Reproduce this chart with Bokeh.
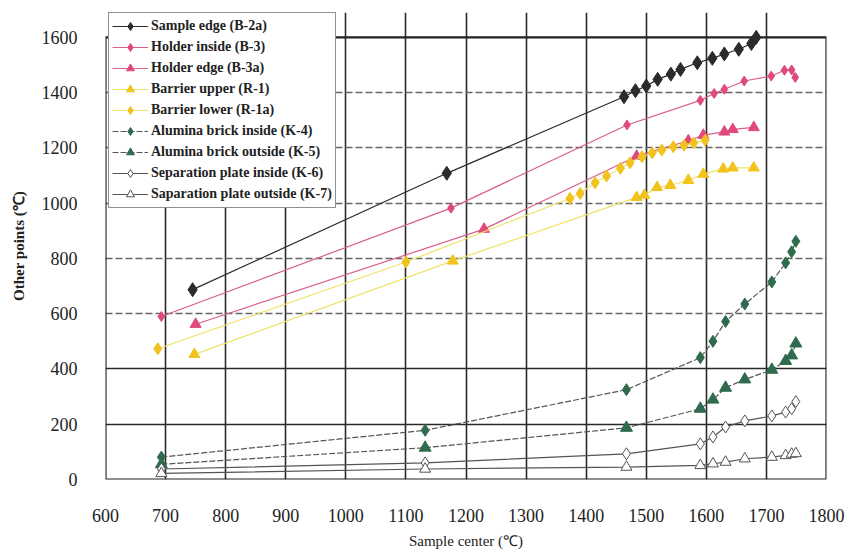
from bokeh.plotting import figure
from bokeh.models import Range1d, FixedTicker, Grid, Legend, LegendItem, BoxAnnotation
from bokeh.embed import file_html
from bokeh.resources import INLINE

# ---- data ----
x_b2a = [745, 1168, 1463, 1482, 1500, 1519, 1541, 1557, 1585, 1610, 1630, 1654, 1675, 1683]
y_b2a = [687, 1108, 1385, 1407, 1424, 1448, 1467, 1484, 1508, 1524, 1540, 1557, 1578, 1600]

x_b3 = [693, 1175, 1468, 1590, 1613, 1630, 1663, 1708, 1730, 1742, 1748]
y_b3 = [590, 982, 1283, 1372, 1397, 1412, 1442, 1460, 1481, 1482, 1455]

x_b3a = [750, 1230, 1484, 1570, 1595, 1630, 1644, 1679]
y_b3a = [562, 906, 1170, 1226, 1246, 1258, 1267, 1274]

x_r1 = [748, 1178, 1484, 1497, 1518, 1540, 1570, 1595, 1628, 1644, 1679]
y_r1 = [453, 791, 1021, 1029, 1057, 1065, 1083, 1105, 1124, 1128, 1128]

x_r1a = [687, 1100, 1373, 1390, 1415, 1434, 1457, 1473, 1493, 1510, 1526, 1545, 1563, 1579, 1598]
y_r1a = [473, 787, 1017, 1035, 1074, 1098, 1126, 1146, 1168, 1182, 1192, 1204, 1210, 1218, 1228]

x_k = [693, 1132, 1467, 1590, 1611, 1632, 1664, 1709, 1732, 1742, 1749]
y_k4 = [81, 178, 325, 441, 500, 572, 635, 715, 784, 824, 862]
y_k5 = [55, 115, 187, 256, 289, 332, 362, 397, 429, 449, 492]
y_k6 = [38, 60, 93, 129, 154, 190, 212, 230, 244, 256, 282]
y_k7 = [22, 38, 45, 51, 57, 63, 75, 81, 87, 92, 94]

labels = ["Sample edge (B-2a)", "Holder inside (B-3)", "Holder edge (B-3a)",
          "Barrier upper (R-1)", "Barrier lower (R-1a)", "Alumina brick inside (K-4)",
          "Alumina brick outside (K-5)", "Separation plate inside (K-6)",
          "Saparation plate outside (K-7)"]

x_ticks = list(range(600, 1801, 100))
y_ticks = list(range(0, 1601, 200))
X_MIN, X_MAX, Y_MIN, Y_MAX = 600, 1800, 0, 1600

SERIF = "Liberation Serif"

# frame extends a little above 1600 so that the legend can sit above the plot box
p = figure(width=847, height=551, output_backend="svg", toolbar_location=None,
           x_range=Range1d(X_MIN, X_MAX), y_range=Range1d(Y_MIN, 1690),
           min_border_left=105, min_border_right=21, min_border_top=12, min_border_bottom=72)

p.background_fill_color = "white"
p.outline_line_color = None

# grids (limited to the 0..1600 box)
p.xgrid.ticker = FixedTicker(ticks=x_ticks)
p.xgrid.grid_line_color = "#2a2a2a"
p.xgrid.grid_line_width = 1.6
p.xgrid.bounds = (Y_MIN, Y_MAX)
p.ygrid.ticker = FixedTicker(ticks=[0, 200, 400])
p.ygrid.grid_line_color = "#2a2a2a"
p.ygrid.grid_line_width = 1.6
p.add_layout(Grid(dimension=1, ticker=FixedTicker(ticks=[600, 800, 1000, 1200, 1400]),
                  grid_line_color="#666666", grid_line_width=1.6, grid_line_dash="7 3"), "center")

# plot box
p.add_layout(BoxAnnotation(left=X_MIN, right=X_MAX, bottom=Y_MIN, top=Y_MAX,
                           fill_alpha=0, line_color="#222222", line_alpha=1.0,
                           line_width=2.2, level="underlay"))

# axes
for ax in (p.xaxis[0], p.yaxis[0]):
    ax.axis_line_color = None
    ax.major_tick_line_color = None
    ax.minor_tick_line_color = None
    ax.major_label_text_font = SERIF
    ax.major_label_text_font_size = "18px"
    ax.major_label_text_color = "#222222"
    ax.axis_label_text_font = SERIF
    ax.axis_label_text_color = "#222222"
p.xaxis.ticker = FixedTicker(ticks=x_ticks)
p.yaxis.ticker = FixedTicker(ticks=y_ticks)
p.xaxis.major_label_standoff = 23
p.yaxis.major_label_standoff = 22
p.xaxis.axis_label = "Sample center (℃)"
p.xaxis.axis_label_text_font_style = "normal"
p.xaxis.axis_label_text_font_size = "15px"
p.xaxis.axis_label_standoff = 8
p.yaxis.axis_label = "Other points (℃)"
p.yaxis.axis_label_text_font_style = "bold"
p.yaxis.axis_label_text_font_size = "15px"
p.yaxis.axis_label_standoff = 12

series = [
    (x_b2a, y_b2a, "diamond", 14, "#2b2b2b", "#2b2b2b", "#2b2b2b", "solid"),
    (x_b3, y_b3, "diamond", 10, "#e0487e", "#e0487e", "#d9608a", "solid"),
    (x_b3a, y_b3a, "triangle", 11, "#e0487e", "#e0487e", "#d9608a", "solid"),
    (x_r1, y_r1, "triangle", 11, "#f2c31c", "#f2c31c", "#eee36a", "solid"),
    (x_r1a, y_r1a, "diamond", 12, "#f2c31c", "#f2c31c", "#eee36a", "solid"),
    (x_k, y_k4, "diamond", 12, "#2f6b4e", "#2f6b4e", "#555555", "6 2"),
    (x_k, y_k5, "triangle", 12, "#2f6b4e", "#2f6b4e", "#555555", "6 2"),
    (x_k, y_k6, "diamond", 12, "white", "#555555", "#555555", "solid"),
    (x_k, y_k7, "triangle", 11, "white", "#555555", "#555555", "solid"),
]

items = []
for (xs, ys, mk, sz, fill, edge, lc, dash), lab in zip(series, labels):
    r_line = p.line(xs, ys, line_color=lc, line_width=1.2, line_dash=dash)
    r_pts = p.scatter(xs, ys, marker=mk, size=sz, fill_color=fill, line_color=edge, line_width=1)
    items.append(LegendItem(label=lab, renderers=[r_line, r_pts]))

legend = Legend(items=items, location=(3, 271))
legend.label_text_font = SERIF
legend.label_text_font_style = "bold"
legend.label_text_font_size = "14px"
legend.label_text_color = "#222222"
legend.label_height = 20
legend.glyph_height = 20
legend.glyph_width = 36
legend.spacing = 1
legend.padding = 3
legend.margin = 0
legend.label_standoff = 3
legend.border_line_color = "#222222"
legend.border_line_width = 1.5
legend.background_fill_alpha = 1
p.add_layout(legend, "center")

open("out.html", "w").write(file_html(p, INLINE))
